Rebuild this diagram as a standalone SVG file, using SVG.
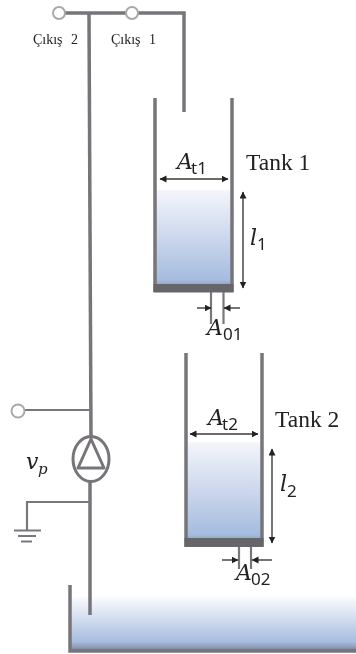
<svg xmlns="http://www.w3.org/2000/svg" width="356" height="654" viewBox="0 0 356 654">
<style>
.pipe{fill:none;stroke:#777479;stroke-width:3.5}
.thin{fill:none;stroke:#7a777b;stroke-width:2.2}
.dim{fill:none;stroke:#3a3a3a;stroke-width:1.4}
.wall{fill:none;stroke:#77757a;stroke-width:3.5}
.port{fill:#fff;stroke:#a9a9a6;stroke-width:2}
.lab{font-family:"Liberation Serif",serif;fill:#222}
.tank{font-size:23.500px}
.out{font-size:14px;word-spacing:5px}
.math{font-family:"DejaVu Serif","Liberation Serif",serif;font-style:italic;fill:#222;font-size:22px}
.sub{font-family:"Noto Sans","Liberation Sans",sans-serif;fill:#222;font-size:17px}
</style>
<defs>
<linearGradient id="liq" x1="0" y1="0" x2="0" y2="1">
<stop offset="0" stop-color="#f4f6fb"/><stop offset="0.88" stop-color="#a6bcdf"/><stop offset="0.95" stop-color="#8e9cb8"/><stop offset="1" stop-color="#66656b"/>
</linearGradient>
<linearGradient id="res" x1="0" y1="0" x2="0" y2="1">
<stop offset="0" stop-color="#fcfdfe"/><stop offset="0.82" stop-color="#a7bce0"/><stop offset="0.92" stop-color="#8d9bb7"/><stop offset="1" stop-color="#646368"/>
</linearGradient>
<marker id="ah" markerWidth="8" markerHeight="8" refX="6.500" refY="3.500" orient="auto-start-reverse" markerUnits="userSpaceOnUse"><path d="M0,0L7,3.500L0,7z" fill="#222"/></marker>
<filter id="soft" x="-5%" y="-5%" width="110%" height="110%"><feGaussianBlur stdDeviation="0.45"/></filter>
<filter id="softer" x="-5%" y="-5%" width="110%" height="110%"><feGaussianBlur stdDeviation="0.25"/></filter>
</defs>
<rect width="356" height="654" fill="#fff"/>
<g id="connectors" filter="url(#soft)">
<path class="pipe" d="M65,13H184V112"/>
<path class="pipe" d="M89,13L91,438"/>
<path class="pipe" d="M90,482V615"/>
<path class="thin" d="M24,410H90"/>
<path class="thin" d="M90,502H27V530"/>
<path class="thin" d="M14,530.500H41M18,536H36M21,541.500H32"/>
</g>
<g id="outlet-2" filter="url(#soft)"><circle class="port" cx="59" cy="13" r="6"/></g>
<g id="outlet-1" filter="url(#soft)"><circle class="port" cx="132" cy="13" r="6"/></g>
<g id="outlet-labels" filter="url(#softer)">
<text class="lab out" x="33" y="44">Çıkış 2</text>
<text class="lab out" x="111" y="44">Çıkış 1</text>
</g>
<g id="tank-1">
<g filter="url(#soft)">
<rect x="156" y="190" width="76" height="102" fill="url(#liq)"/>
<path class="wall" d="M155,98V292M232,98V292"/>
<path d="M153.500,284H233.500V292.500H153.500z" fill="#66656b"/>
<path class="thin" d="M211,292V324M223.500,292V324"/>
</g>
<path class="dim" marker-start="url(#ah)" marker-end="url(#ah)" d="M160,179H228"/>
<path class="dim" marker-start="url(#ah)" marker-end="url(#ah)" stroke-width="1.800" d="M243,192V288"/>
<path class="dim" marker-end="url(#ah)" d="M197,308H211"/>
<path class="dim" marker-end="url(#ah)" d="M240,308H224"/>
<g filter="url(#softer)">
<text class="lab tank" x="246" y="170">Tank 1</text>
<text class="math" x="177" y="169">A</text><text class="sub" x="191" y="174">t1</text>
<text class="math" x="250" y="245">l</text><text class="sub" x="257" y="250">1</text>
<text class="math" x="207" y="335">A</text><text class="sub" x="223" y="340">01</text>
</g>
</g>
<g id="tank-2">
<g filter="url(#soft)">
<rect x="187" y="442" width="75" height="105" fill="url(#liq)"/>
<path class="wall" d="M186,353V547M262,353V547"/>
<path d="M184.500,538H263.500V546.500H184.500z" fill="#66656b"/>
<path class="thin" d="M239,547V569M251,547V569"/>
</g>
<path class="dim" marker-start="url(#ah)" marker-end="url(#ah)" d="M190,434H258"/>
<path class="dim" marker-start="url(#ah)" marker-end="url(#ah)" stroke-width="1.800" d="M272,449V543"/>
<path class="dim" marker-end="url(#ah)" d="M222,560H238"/>
<path class="dim" marker-end="url(#ah)" d="M272,560H252"/>
<g filter="url(#softer)">
<text class="lab tank" x="275" y="427">Tank 2</text>
<text class="math" x="208" y="425">A</text><text class="sub" x="222" y="430">t2</text>
<text class="math" x="280" y="491">l</text><text class="sub" x="287" y="497">2</text>
<text class="math" x="236" y="580">A</text><text class="sub" x="251" y="585">02</text>
</g>
</g>
<g id="pump" filter="url(#soft)">
<ellipse cx="91" cy="459" rx="18" ry="22.500" fill="#fff" stroke="#777479" stroke-width="3"/>
<path d="M91,439L104,468H78z" fill="#fff" stroke="#777479" stroke-width="3" stroke-linejoin="round"/>
</g>
<g id="pump-input" filter="url(#soft)"><circle class="port" cx="18" cy="411" r="6.500"/></g>
<g id="pump-label" filter="url(#softer)"><text class="math" x="26" y="469">v</text><text class="math" x="38" y="474" style="font-size:15px">p</text></g>
<g id="reservoir" filter="url(#soft)">
<rect x="71" y="596" width="285" height="56" fill="url(#res)"/>
<path class="wall" d="M70,585V651H356"/>
<path class="pipe" d="M90,596V615"/>
</g>
</svg>
